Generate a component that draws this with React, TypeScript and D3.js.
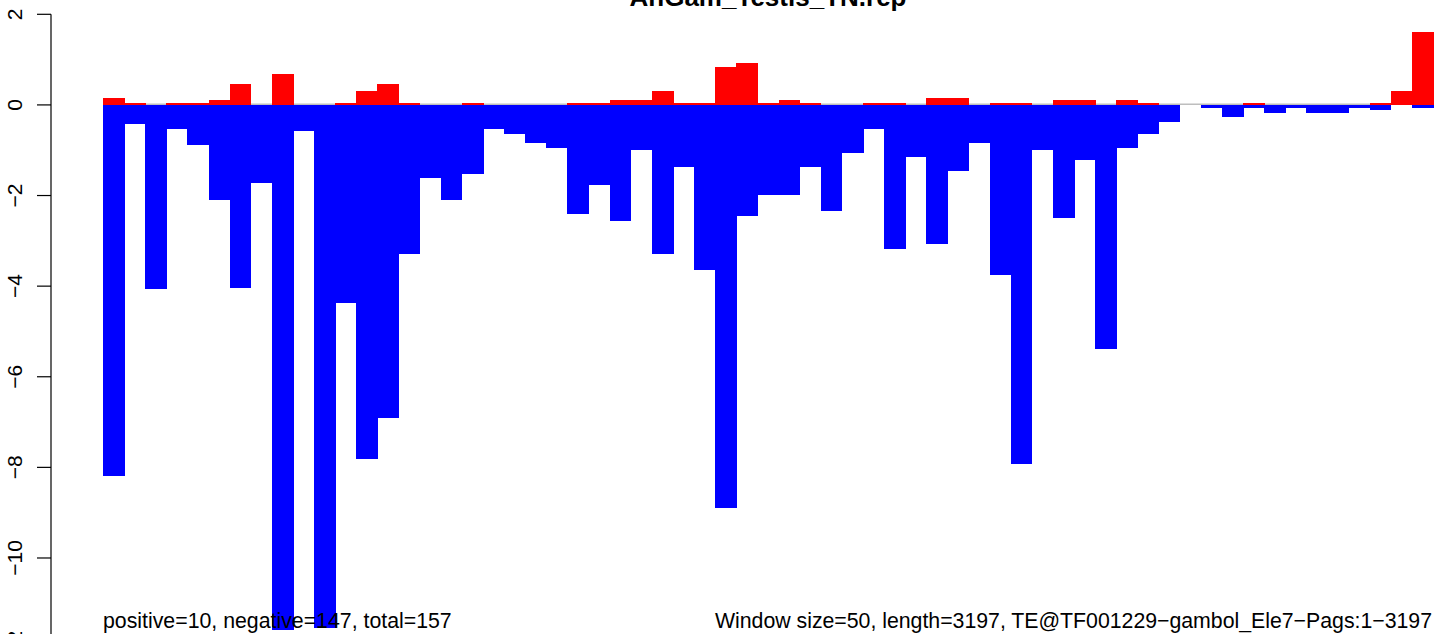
import React from 'react';
import * as d3 from 'd3';

// window scores (63 windows of 50 bp)
const positive = [
    0.155, 0.04, 0, 0.04, 0.04, 0.11, 0.46, 0, 0.69, 0,
    0, 0.04, 0.31, 0.46, 0.04, 0, 0, 0.04, 0, 0,
    0, 0, 0.04, 0.04, 0.11, 0.11, 0.31, 0.04, 0.04, 0.84,
    0.93, 0.04, 0.11, 0.04, 0, 0, 0.04, 0.04, 0, 0.155,
    0.155, 0, 0.04, 0.04, 0, 0.11, 0.11, 0, 0.11, 0.04,
    0, 0, 0, 0, 0.04, 0, 0, 0, 0, 0,
    0.04, 0.31, 1.61,
];

const negative = [
    -8.18, -0.42, -4.07, -0.53, -0.88, -2.1, -4.03, -1.73, -11.6, -0.58,
    -11.55, -4.38, -7.81, -6.92, -3.29, -1.61, -2.1, -1.52, -0.53, -0.64,
    -0.84, -0.95, -2.41, -1.77, -2.56, -1.0, -3.29, -1.37, -3.65, -8.89,
    -2.46, -1.99, -1.99, -1.37, -2.35, -1.06, -0.53, -3.18, -1.15, -3.07,
    -1.46, -0.84, -3.76, -7.92, -1.0, -2.5, -1.22, -5.38, -0.95, -0.64,
    -0.38, 0, -0.06, -0.27, -0.06, -0.18, -0.06, -0.18, -0.18, -0.06,
    -0.11, 0, -0.06,
];

const yTicks = [2, 0, -2, -4, -6, -8, -10, -12];

const title = 'AnGam_Testis_TN.rep';
const leftNote = 'positive=10, negative=147, total=157';
const rightNote = 'Window size=50, length=3197, TE@TF001229\u2212gambol_Ele7\u2212Pags:1\u22123197';

const W = 1449;
const H = 634;
const FONT = '"Liberation Sans", Arial, Helvetica, sans-serif';

export default function App() {
    const idx = d3.range(positive.length);
    const x = d3.scaleBand<number>().domain(idx).range([103, 1433]).padding(0);
    const y = d3.scaleLinear().domain([-12, 2]).range([648.6, 14.3]);
    const zero = y(0);
    const axisX = 51;

    const fmt = (v: number) => (v < 0 ? '\u2212' + Math.abs(v) : String(v));

    return (
        <div style={{ position: 'fixed', left: 0, top: 0, width: W, height: H, background: '#fff' }}>
            <svg width={W} height={H} viewBox={`0 0 ${W} ${H}`} style={{ display: 'block' }} fontFamily={FONT}>
                <rect width={W} height={H} fill="#fff" />

                {/* zero reference line */}
                <line x1={x(0)} x2={x(idx.length - 1)! + x.bandwidth()} y1={zero - 0.6} y2={zero - 0.6} stroke="#bebebe" strokeWidth={1.5} />

                {/* bars */}
                <g shapeRendering="crispEdges">
                    {negative.map((v, i) => v < 0 && (
                        <rect key={'n' + i} x={x(i)} width={x.bandwidth() + 0.5} y={zero} height={y(v) - zero} fill="#0000ff" />
                    ))}
                    {positive.map((v, i) => v > 0 && (
                        <rect key={'p' + i} x={x(i)} width={x.bandwidth() + 0.5} y={y(v)} height={zero - y(v)} fill="#ff0000" />
                    ))}
                </g>

                {/* y axis */}
                <g stroke="#000" strokeWidth={1.2}>
                    <line x1={axisX} x2={axisX} y1={y(2)} y2={y(-12)} />
                    {yTicks.map((t) => (
                        <line key={t} x1={axisX - 14} x2={axisX} y1={y(t)} y2={y(t)} />
                    ))}
                </g>
                {yTicks.map((t) => (
                    <text
                        key={'l' + t}
                        transform={`translate(22,${y(t)}) rotate(-90)`}
                        textAnchor="middle"
                        fontSize={21}
                        fill="#000"
                    >
                        {fmt(t)}
                    </text>
                ))}

                {/* title */}
                <text x={(103 + 1433) / 2} y={6} textAnchor="middle" fontSize={26} fontWeight="bold" fill="#000">
                    {title}
                </text>

                {/* notes */}
                <text x={103} y={628} fontSize={21.3} fill="#000">{leftNote}</text>
                <text x={1432} y={628} textAnchor="end" fontSize={21.3} fill="#000" textLength={717} lengthAdjust="spacing">{rightNote}</text>
            </svg>
        </div>
    );
}
